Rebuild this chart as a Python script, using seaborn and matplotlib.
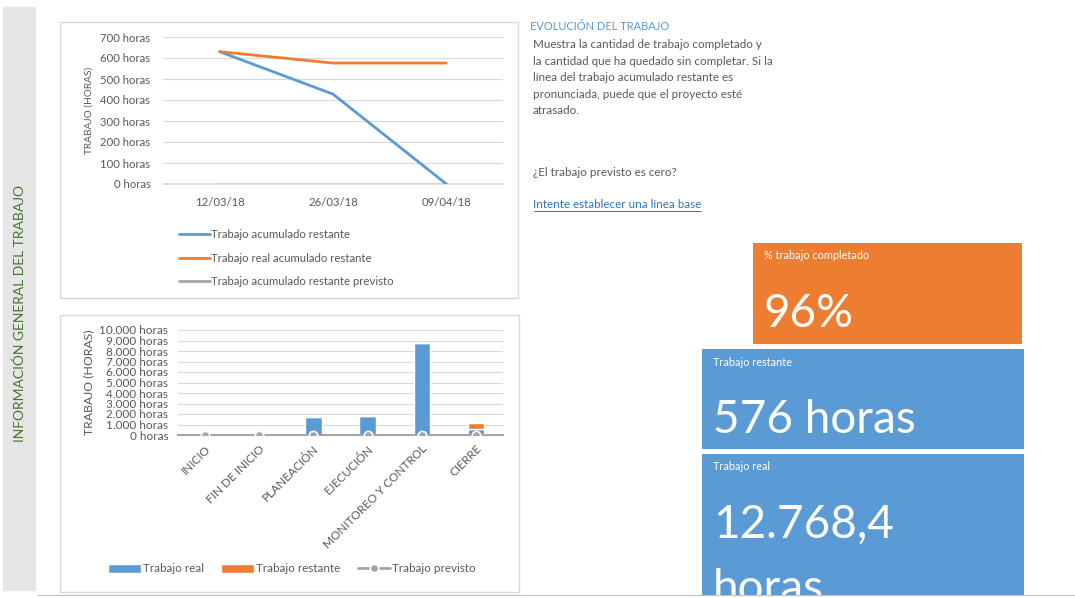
import matplotlib
matplotlib.use("Agg")
import matplotlib.pyplot as plt
from matplotlib.patches import Rectangle
from matplotlib.lines import Line2D
from matplotlib.ticker import FuncFormatter, MultipleLocator
import seaborn as sns

# ---------------- data ----------------
dates = ["12/03/18", "26/03/18", "09/04/18"]
acum_restante = [630, 428, 0]
real_acum_restante = [630, 576, 576]
acum_previsto = [0, 0, 0]

phases = ["INICIO", "FIN DE INICIO", "PLANEACIÓN", "EJECUCIÓN",
          "MONITOREO Y CONTROL", "CIERRE"]
trabajo_real = [0, 0, 1667, 1762, 8790, 549.4]
trabajo_restante = [0, 0, 0, 0, 0, 576]
trabajo_previsto = [0, 0, 0, 0, 0, 0]

kpi_pct = "96%"
kpi_restante = "576 horas"
kpi_real_1 = "12.768,4"
kpi_real_2 = "horas"

# ---------------- style ----------------
sns.set_theme(style="white")
plt.rcParams["font.family"] = ["Lato", "DejaVu Sans"]

BLUE = "#5B9BD5"
ORANGE = "#ED7D31"
GREY = "#A5A5A5"
GRID = "#D9D9D9"
TXT = "#595959"

W, H = 1075, 598
fig = plt.figure(figsize=(W / 100, H / 100), dpi=100)
fig.patch.set_facecolor("white")


def fx(x):
    return x / W


def fy(y):
    return 1 - y / H


def axes_px(x0, y0, x1, y1):
    return fig.add_axes([fx(x0), fy(y1), (x1 - x0) / W, (y1 - y0) / H])


# left strip
fig.patches.append(Rectangle((fx(3), fy(590)), 32 / W, 583 / H,
                             transform=fig.transFigure, color="#E7E6E6", zorder=0))
fig.text(fx(20), fy(314), "INFORMACIÓN GENERAL DEL TRABAJO", rotation=90,
         ha="center", va="center", color="#3F7A2A", fontsize=10)

# chart frames
for (x0, y0, x1, y1) in [(60, 22, 518, 298), (60, 315, 519, 592)]:
    fig.patches.append(Rectangle((fx(x0), fy(y1)), (x1 - x0) / W, (y1 - y0) / H,
                                 transform=fig.transFigure, fill=False,
                                 edgecolor=GRID, linewidth=1, zorder=0))

# ---------------- line chart ----------------
ax1 = axes_px(163, 37, 503, 184)
sns.lineplot(x=dates, y=acum_restante, ax=ax1, color=BLUE, linewidth=2,
             label="Trabajo acumulado restante", sort=False, zorder=3)
sns.lineplot(x=dates, y=real_acum_restante, ax=ax1, color=ORANGE, linewidth=2,
             label="Trabajo real acumulado restante", sort=False, zorder=4)
sns.lineplot(x=dates, y=acum_previsto, ax=ax1, color=GREY, linewidth=2,
             label="Trabajo acumulado restante previsto", sort=False, zorder=2)
ax1.set_xlim(-0.5, 2.5)
ax1.set_ylim(0, 700)
ax1.yaxis.set_major_locator(MultipleLocator(100))
ax1.yaxis.set_major_formatter(FuncFormatter(lambda v, p: f"{int(v)} horas"))
ax1.grid(axis="y", color=GRID, linewidth=0.8)
ax1.set_axisbelow(True)
for s in ["top", "right", "left"]:
    ax1.spines[s].set_visible(False)
ax1.spines["bottom"].set_color(GRID)
ax1.tick_params(axis="both", length=0, labelsize=8.2, labelcolor=TXT)
ax1.tick_params(axis="y", pad=9)
ax1.tick_params(axis="x", pad=9)
ax1.set_xlabel("")
ax1.set_ylabel("TRABAJO (HORAS)", fontsize=7.3, color=TXT, labelpad=5)
h, l = ax1.get_legend_handles_labels()
ax1.legend(h, l, loc="upper left", bbox_to_anchor=(fx(169), fy(219)),
           bbox_transform=fig.transFigure, frameon=False, fontsize=8.2,
           handlelength=2.7, handletextpad=0.1, labelspacing=1.1,
           labelcolor=TXT)

# ---------------- bar chart ----------------
ax2 = axes_px(178, 330, 503, 435)
sns.barplot(x=phases, y=trabajo_real, ax=ax2, color=BLUE, width=0.3,
            errorbar=None, label="Trabajo real", saturation=1, zorder=2)
sns.barplot(x=phases, y=trabajo_restante, bottom=trabajo_real, ax=ax2,
            color=ORANGE, width=0.3, errorbar=None, label="Trabajo restante",
            saturation=1, zorder=2)
sns.pointplot(x=phases, y=trabajo_previsto, ax=ax2, color=GREY, markers="o",
              linestyles="-", errorbar=None, label="Trabajo previsto",
              markersize=6, markeredgecolor="white", markeredgewidth=1.2,
              linewidth=2, zorder=4)
ax2.set_xlim(-0.5, 5.5)
ax2.set_ylim(0, 10000)
ax2.yaxis.set_major_locator(MultipleLocator(1000))
ax2.yaxis.set_major_formatter(
    FuncFormatter(lambda v, p: f"{int(v):,} horas".replace(",", ".")))
ax2.grid(axis="y", color=GRID, linewidth=0.8)
ax2.grid(axis="x", visible=False)
ax2.set_axisbelow(True)
for s in ["top", "right", "left"]:
    ax2.spines[s].set_visible(False)
ax2.spines["bottom"].set_color(GREY)
ax2.spines["bottom"].set_linewidth(1.5)
ax2.tick_params(axis="both", length=0, labelcolor=TXT)
ax2.tick_params(axis="y", labelsize=8.5, pad=7)
ax2.tick_params(axis="x", labelsize=8.5, pad=6)
for lab in ax2.get_xticklabels():
    lab.set_rotation(45)
    lab.set_ha("right")
    lab.set_va("top")
    lab.set_rotation_mode("anchor")
ax2.set_xlabel("")
ax2.set_ylabel("TRABAJO (HORAS)", fontsize=8.8, color=TXT, labelpad=4)
h, l = ax2.get_legend_handles_labels()
order = ["Trabajo real", "Trabajo restante", "Trabajo previsto"]
hd = dict(zip(l, h))
ax2.legend([hd[k] for k in order], order, loc="center left",
           bbox_to_anchor=(fx(98), fy(569)),
           bbox_transform=fig.transFigure, frameon=False, fontsize=8.4, ncol=3,
           handlelength=2.8, handleheight=0.7, handletextpad=0.15,
           columnspacing=1.5, labelcolor=TXT)

# ---------------- text panel ----------------
fig.text(fx(530), fy(27), "EVOLUCIÓN DEL TRABAJO", color="#5B9BD5",
         fontsize=8, va="center", ha="left")
body = ["Muestra la cantidad de trabajo completado y",
        "la cantidad que ha quedado sin completar. Si la",
        "línea del trabajo acumulado restante es",
        "pronunciada, puede que el proyecto esté",
        "atrasado."]
for i, line in enumerate(body):
    fig.text(fx(533), fy(45 + i * 16.4), line, color=TXT, fontsize=8.4,
             va="center", ha="left")
fig.text(fx(533), fy(172), "¿El trabajo previsto es cero?", color=TXT,
         fontsize=8.4, va="center", ha="left")
fig.text(fx(533), fy(204), "Intente establecer una línea base",
         color="#2E75B6", fontsize=8.4, va="center", ha="left")
fig.add_artist(Line2D([fx(534), fx(701)], [fy(211), fy(211)],
                      transform=fig.transFigure, color="#2E75B6", linewidth=0.7))


# ---------------- KPI tiles ----------------
def tile(x0, y0, x1, y1, color, head, value, val_size):
    ax = axes_px(x0, y0, x1, y1)
    ax.set_facecolor(color)
    ax.set_xticks([])
    ax.set_yticks([])
    for s in ax.spines.values():
        s.set_visible(False)
    ax.set_xlim(x0, x1)
    ax.set_ylim(y1, y0)
    ax.text(x0 + 11, y0 + 13, head, color="white", fontsize=7.8,
            va="center", ha="left", clip_on=True)
    ax.text(x0 + 11, y0 + 84, value, color="white", fontsize=val_size,
            va="baseline", ha="left", clip_on=True)
    return ax


tile(753, 243, 1022, 344, ORANGE, "% trabajo completado", kpi_pct, 33)
tile(702, 349, 1024, 449, BLUE, "Trabajo restante", kpi_restante, 33)
ax_last = tile(702, 454, 1024, 596, BLUE, "Trabajo real", kpi_real_1, 33)
ax_last.text(713, 602, kpi_real_2, color="white", fontsize=33, va="baseline",
             ha="left", clip_on=True)

# bottom rule
fig.add_artist(Line2D([fx(38), 1], [fy(595), fy(595)], transform=fig.transFigure,
                      color="#BFBFBF", linewidth=0.8))

fig.savefig("out.png", dpi=100)
